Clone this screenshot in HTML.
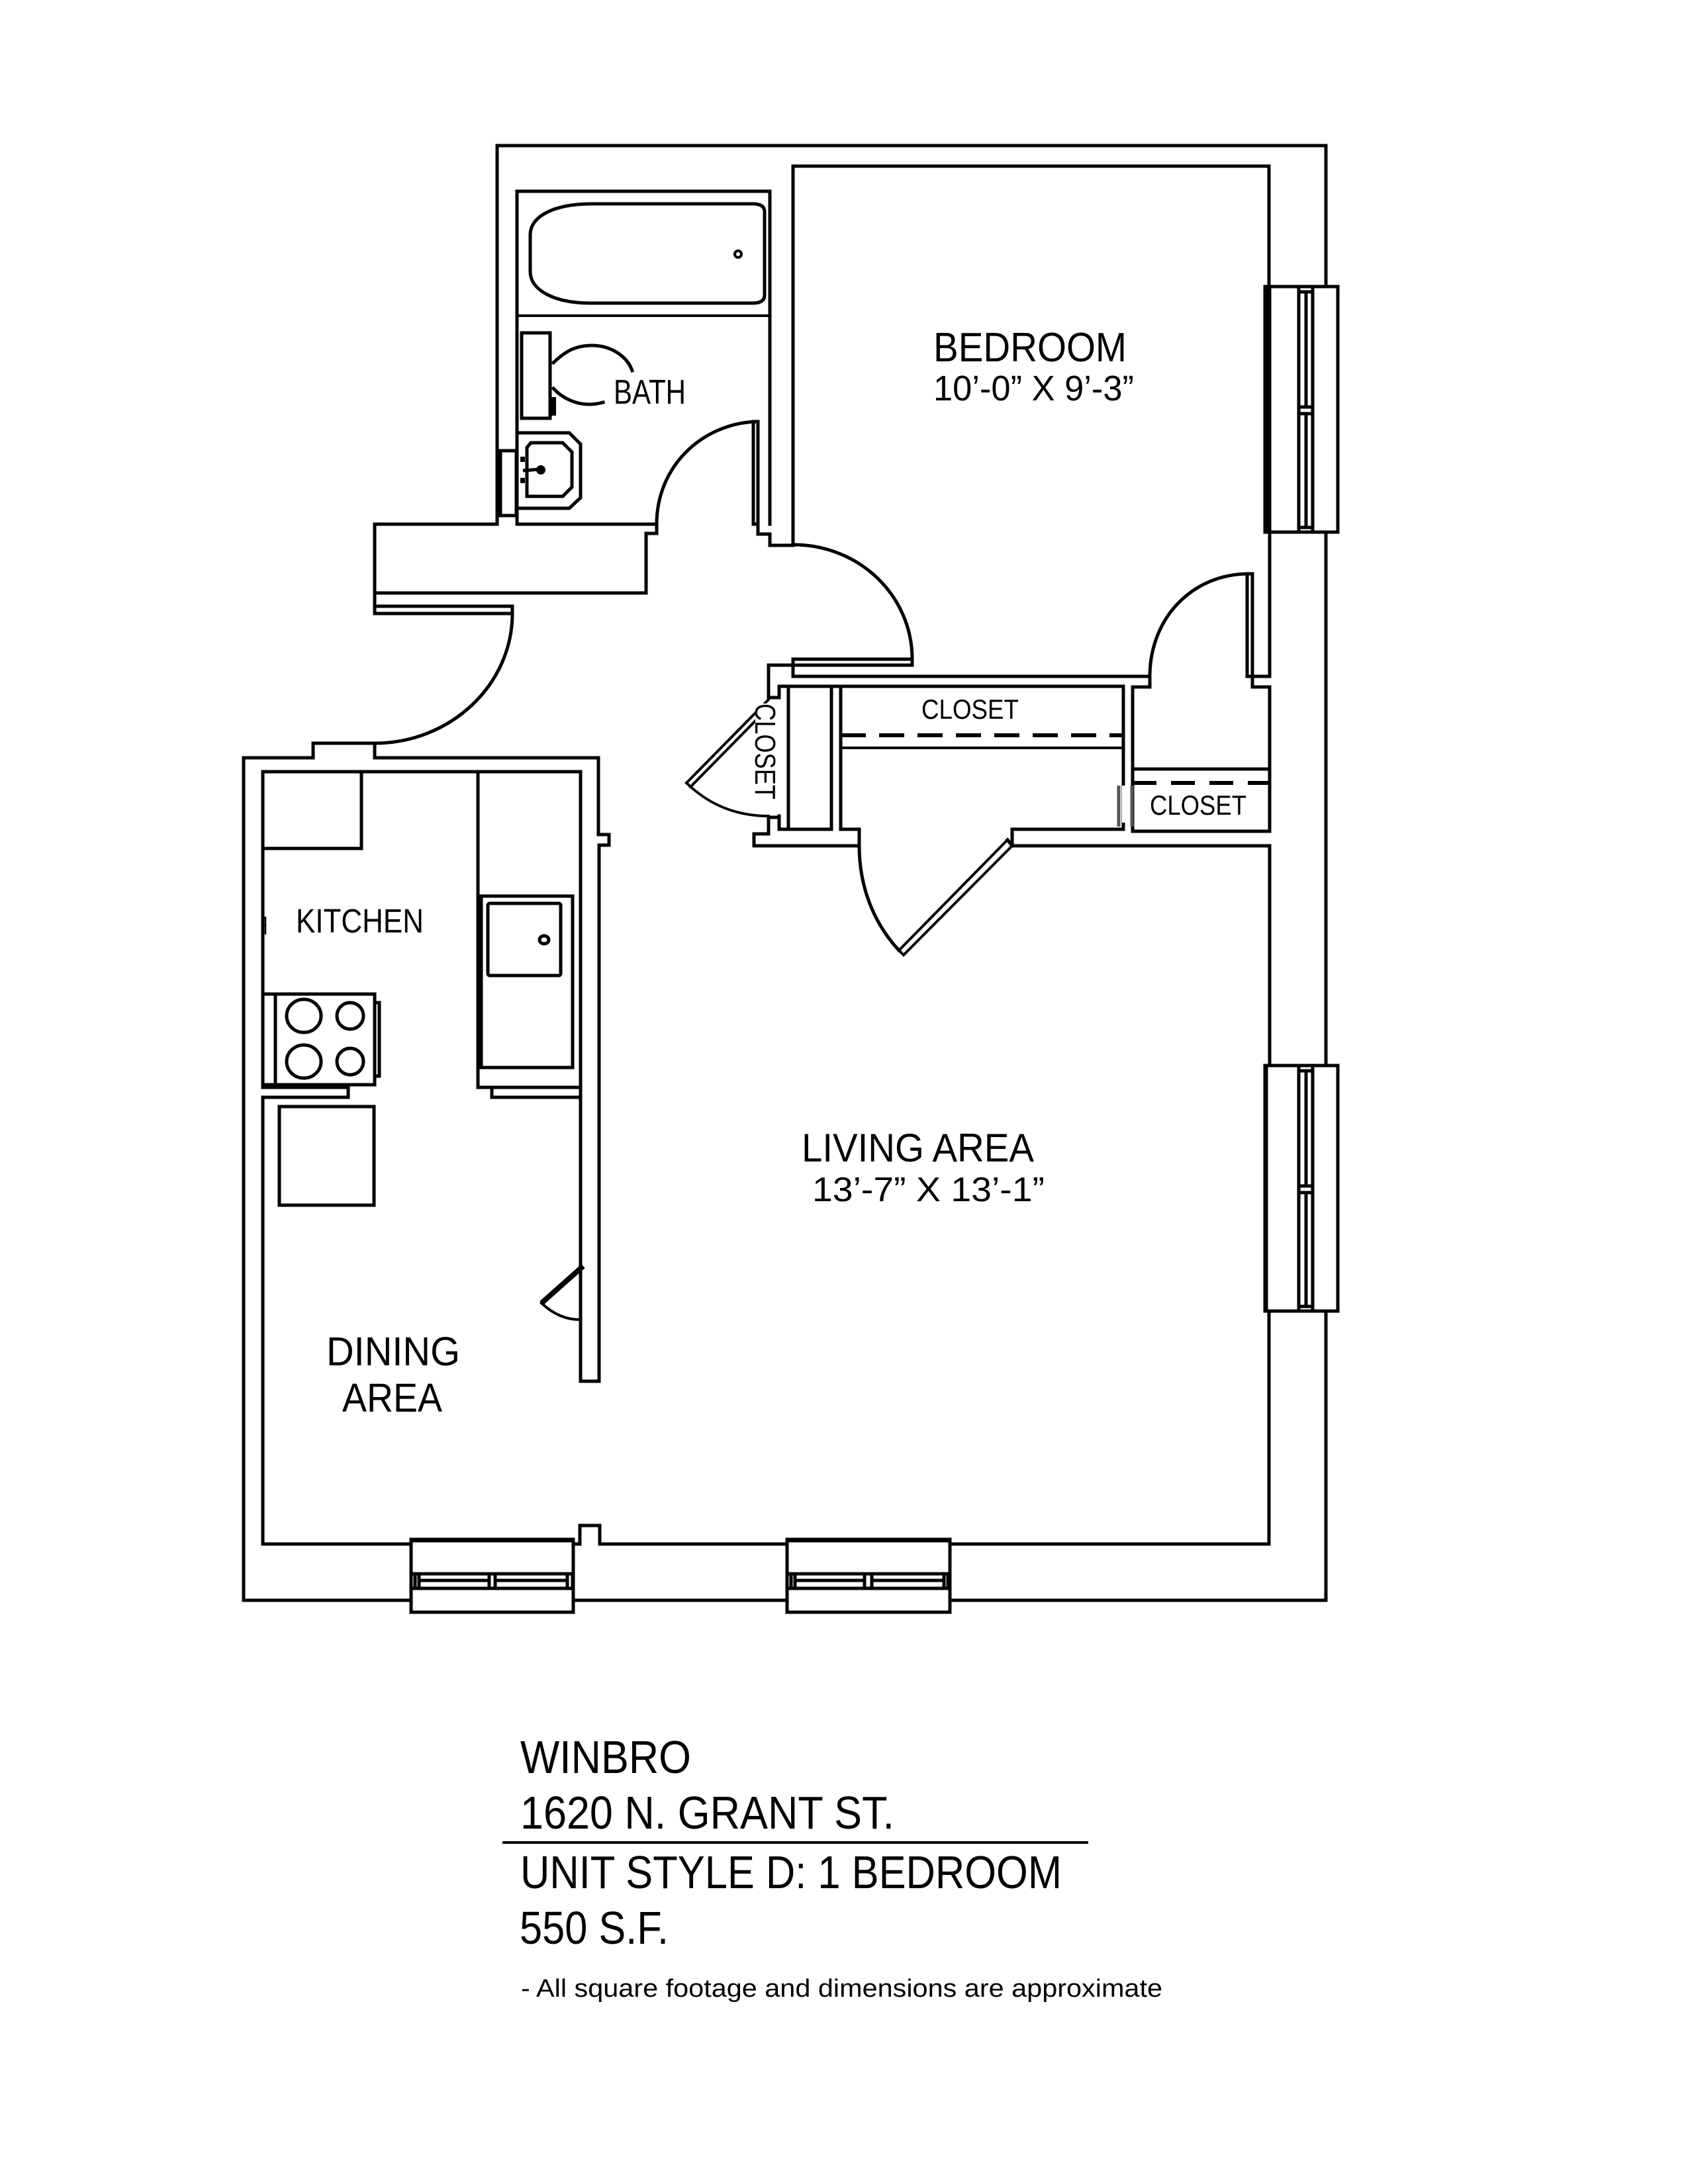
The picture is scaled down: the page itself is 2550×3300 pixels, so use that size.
<!DOCTYPE html>
<html>
<head>
<meta charset="utf-8">
<style>
html,body{margin:0;padding:0;background:#fff;}
svg{display:block;}
.w{fill:none;stroke:#000;stroke-width:5;stroke-linejoin:miter;stroke-linecap:square;}
.t{stroke-width:4;}
text{font-family:"Liberation Sans",sans-serif;fill:#000;}
</style>
</head>
<body>
<svg width="2550" height="3300" viewBox="0 0 2550 3300" xmlns="http://www.w3.org/2000/svg">
<rect width="2550" height="3300" fill="#fff"/>

<!-- Outer walls upper -->
<path class="w" d="M781 792 H992 V806 H976 V896 H566 V792 H751 V220 H2003 V433"/>
<path class="w" d="M1198 824 V251 H1917 V433"/>
<path class="w" d="M2003 804 V1610 M2003 1981 V2418 H1435 M1189 2418 H866 M621 2418 H368 V1145 H473 V1123 H566 V1145 H904 V1261 H920 V1277 H905 V2087 H877 V1658 H743 V1643 H722 V1166 M877 1658 V1166 H397 V1643 H526 V1658 H397 V2333 H621 M866 2333 H876 V2305 H906 V2333 H1189 M1435 2333 H1917 V1981"/>
<path class="w" d="M722 1643 H877"/>

<!-- Bath -->
<path class="w" d="M781 792 V289 H1163 V792 M1145 792 V807 H1163 V824 H1198"/>
<path class="w t" d="M781 477 H1163"/>
<path class="w" d="M1138 792 V637 H1145 V792 H1138"/>
<path class="w" d="M1143 637 C1060 640 992 705 992 792"/>
<path class="w" d="M895 308 H1137 Q1155 308 1155 320 V446 Q1155 458 1137 458 H892 C840 458 801 440 801 410 V355 C801 325 840 308 895 308Z"/>
<circle class="w t" cx="1115" cy="384" r="5"/>
<rect class="w" x="788" y="503" width="43" height="129"/>
<path class="w" d="M836 548 C855 530 870 522 894 522 C925 522 948 540 955 560"/>
<path class="w" d="M836 587 C850 602 870 611 890 611 Q900 611 911 608"/>
<rect x="831" y="600" width="9" height="28" fill="#000"/>
<path class="w" d="M781 654 H860 L877 671 V752 L860 768 H781"/>
<path class="w" d="M796 676 L802 669 H850 L864 683 V736 L850 750 H796 Z"/>
<path d="M790 711 L817 709" fill="none" stroke="#000" stroke-width="5"/>
<circle cx="817" cy="710" r="7" fill="#000"/>
<rect x="786" y="690" width="7" height="8" fill="#000"/>
<rect x="786" y="722" width="7" height="8" fill="#000"/>
<rect class="w" x="756" y="681" width="24" height="98"/>

<!-- Entry door -->
<path class="w" d="M566 896 V927 H774 V916 H566"/>
<path class="w" d="M774 927 C774 1035 680 1123 566 1123"/>

<!-- Bedroom door and closet walls -->
<path class="w" d="M1198 823 C1298 823 1378 900 1378 996"/>
<rect class="w" x="1198" y="996" width="180" height="9"/>
<path class="w" d="M1198 1005 V1022 H1737 V1038 H1711 V1256 M1198 1005 H1161 V1054 H1177 V1037 H1697 V1253"/>
<path class="w" d="M1737 1022 C1737 935 1800 867 1887 867"/>
<rect class="w" x="1884" y="867" width="8" height="155"/>
<path class="w" d="M1884 1022 H1918 V433 M1892 1022 V1038 H1918 V1256 H1711"/>
<path class="w" d="M1711 1162 H1918"/>
<path d="M1711 1183 H1918" fill="none" stroke="#000" stroke-width="6" stroke-dasharray="36 22"/>
<path class="w" d="M1918 1278 V1610 M1918 1278 H1529 V1253 H1697 M1529 1278 L1522 1269"/>
<path class="w" d="M1191 1037 V1253 M1256 1037 V1253 M1270 1037 V1253 H1298 V1278 H1139 V1260 H1161 V1235 H1177 M1177 1233 V1253 H1256"/>
<path d="M1270 1111 H1697" fill="none" stroke="#000" stroke-width="6" stroke-dasharray="38 20"/>
<path class="w t" d="M1270 1130 H1697"/>
<path d="M1690 1187 V1249 M1710 1187 V1249" stroke="#555" stroke-width="5" fill="none"/>
<rect x="1695" y="1187" width="10" height="56" fill="#fff"/>

<!-- Closet doors -->
<path class="w" d="M1298 1278 C1298 1340 1320 1395 1358 1436"/>
<path class="w t" d="M1358 1436 L1522 1269 L1530 1277 L1365 1443 Z"/>
<path class="w t" d="M1037 1183 L1161 1057 M1043 1189 L1160 1070"/>
<path class="w t" d="M1037 1183 C1070 1215 1110 1233 1161 1233"/>

<!-- Kitchen -->
<path class="w" d="M397 1282 H546 V1166"/>
<rect class="w" x="727" y="1354" width="138" height="259"/>
<rect class="w" x="737" y="1365" width="110" height="109" rx="3"/>
<ellipse class="w" cx="822" cy="1420" rx="7" ry="6"/>
<rect class="w" x="397" y="1502" width="169" height="137"/>
<path class="w" d="M416 1502 V1639 M566 1515 H573 V1626 H566"/>
<ellipse class="w" cx="459" cy="1535" rx="26" ry="25"/>
<ellipse class="w" cx="459" cy="1604" rx="26" ry="25"/>
<ellipse class="w" cx="529" cy="1535" rx="20" ry="20"/>
<ellipse class="w" cx="529" cy="1604" rx="20" ry="20"/>
<rect class="w" x="422" y="1672" width="143" height="149"/>
<path d="M399 1386 L396 1398 H402 M401 1385 V1412" stroke="#000" stroke-width="2.5" fill="none"/>
<path d="M881 1913 L818 1969" stroke="#000" stroke-width="8" fill="none"/>
<path class="w t" d="M818 1969 C835 1985 855 1994 876 1994"/>

<!-- Right windows -->
<rect class="w" x="1911" y="433" width="110" height="371"/>
<rect class="w" x="1911" y="1610" width="110" height="371"/>
<path d="M1912 433 V804 M1912 1610 V1981" stroke="#000" stroke-width="7" fill="none"/>
<path class="w" d="M1962 433 V804 M1983 433 V804 M1973 441 V615 M1973 625 V797 M1962 441 H1983 M1962 615 H1983 M1962 625 H1983 M1962 797 H1983"/>
<path class="w" d="M1962 1610 V1981 M1983 1610 V1981 M1973 1618 V1792 M1973 1802 V1974 M1962 1618 H1983 M1962 1792 H1983 M1962 1802 H1983 M1962 1974 H1983"/>

<!-- Bottom windows -->
<rect class="w" x="621" y="2326" width="245" height="110"/>
<rect class="w" x="1189" y="2326" width="246" height="110"/>
<path d="M621 2327 H866 M1189 2327 H1435" stroke="#000" stroke-width="7" fill="none"/>
<path class="w" d="M621 2378 H866 M621 2400 H866 M633 2388 H739 M748 2388 H857 M627 2378 V2400 M633 2378 V2400 M739 2378 V2400 M748 2378 V2400 M857 2378 V2400 M865 2378 V2400"/>
<path class="w" d="M1189 2378 H1435 M1189 2400 H1435 M1201 2388 H1306 M1317 2388 H1426 M1195 2378 V2400 M1201 2378 V2400 M1306 2378 V2400 M1317 2378 V2400 M1426 2378 V2400 M1432 2378 V2400"/>

<!-- Labels -->
<text x="1410" y="546" font-size="62" textLength="292" lengthAdjust="spacingAndGlyphs">BEDROOM</text>
<text x="1410" y="605" font-size="54" textLength="303" lengthAdjust="spacingAndGlyphs">10’-0” X 9’-3”</text>
<text x="927" y="610" font-size="52" textLength="109" lengthAdjust="spacingAndGlyphs">BATH</text>
<text x="1392" y="1086" font-size="42" textLength="147" lengthAdjust="spacingAndGlyphs">CLOSET</text>
<text x="1737" y="1231" font-size="42" textLength="146" lengthAdjust="spacingAndGlyphs">CLOSET</text>
<rect x="1141" y="1063" width="32" height="145" fill="#fff"/>
<text transform="translate(1141 1063) rotate(90)" x="0" y="0" font-size="44" textLength="145" lengthAdjust="spacingAndGlyphs">CLOSET</text>
<text x="447" y="1409" font-size="51" textLength="193" lengthAdjust="spacingAndGlyphs">KITCHEN</text>
<text x="1211" y="1755" font-size="60" textLength="351" lengthAdjust="spacingAndGlyphs">LIVING AREA</text>
<text x="1227" y="1815" font-size="52" textLength="351" lengthAdjust="spacingAndGlyphs">13’-7” X 13’-1”</text>
<text x="493" y="2063" font-size="61" textLength="202" lengthAdjust="spacingAndGlyphs">DINING</text>
<text x="517" y="2133" font-size="61" textLength="151" lengthAdjust="spacingAndGlyphs">AREA</text>

<text x="786" y="2679" font-size="70" textLength="258" lengthAdjust="spacingAndGlyphs">WINBRO</text>
<text x="786" y="2763" font-size="70" textLength="565" lengthAdjust="spacingAndGlyphs">1620 N. GRANT ST.</text>
<path d="M759 2784 H1644" stroke="#000" stroke-width="4" fill="none"/>
<text x="786" y="2853" font-size="70" textLength="818" lengthAdjust="spacingAndGlyphs">UNIT STYLE D: 1 BEDROOM</text>
<text x="785" y="2937" font-size="70" textLength="225" lengthAdjust="spacingAndGlyphs">550 S.F.</text>
<text x="787" y="3017" font-size="38" textLength="969" lengthAdjust="spacingAndGlyphs">- All square footage and dimensions are approximate</text>
</svg>
</body>
</html>
